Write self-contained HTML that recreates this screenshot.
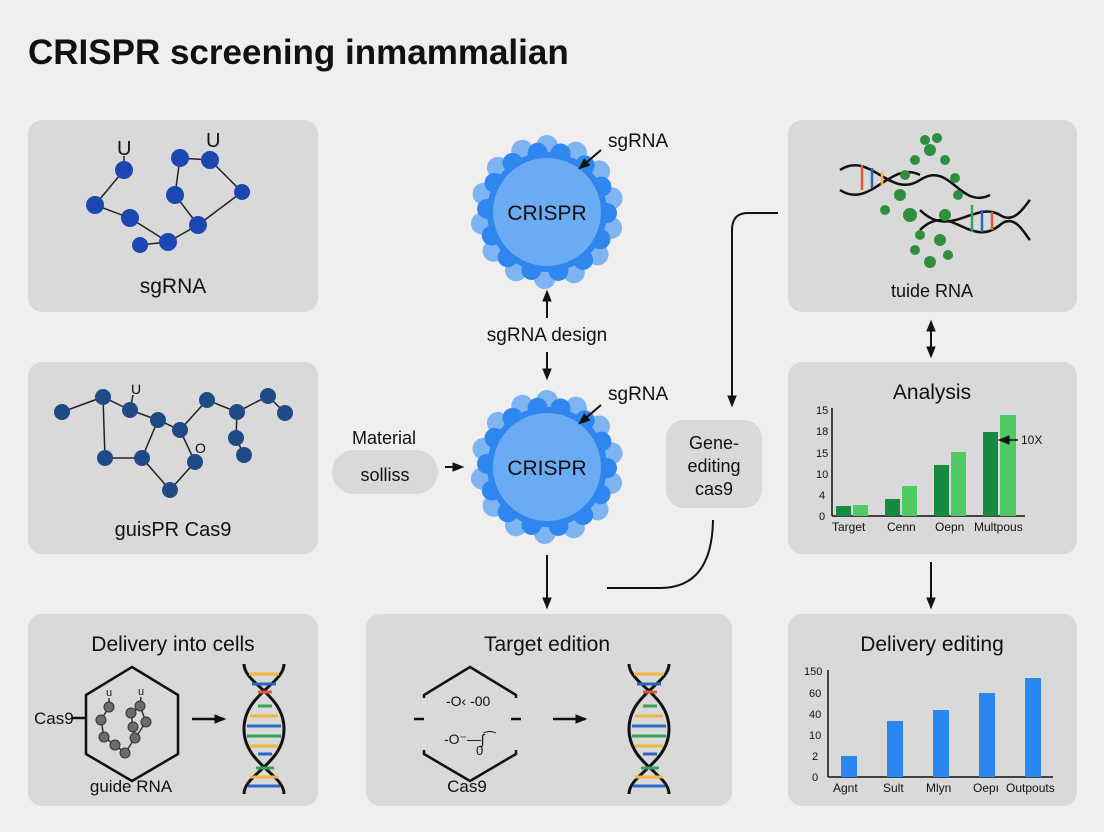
<!DOCTYPE html>
<html><head><meta charset="utf-8"><style>
body{margin:0;width:1104px;height:832px;background:#efefef;overflow:hidden;font-family:"Liberation Sans",sans-serif;}
svg{position:absolute;left:0;top:0}
text{font-family:"Liberation Sans",sans-serif;fill:#111}
</style></head><body>
<svg width="1104" height="832" viewBox="0 0 1104 832">
<defs>
<marker id="ah" viewBox="0 0 10 10" refX="8" refY="5" markerUnits="userSpaceOnUse" markerWidth="12" markerHeight="12" orient="auto-start-reverse"><path d="M0,1 L10,5 L0,9 z" fill="#111"/></marker>
<g id="blob">
<g fill="#7fb4f3">
<circle cx="0" cy="-66" r="11"/><circle cx="0" cy="-66" r="11" transform="rotate(26)"/><circle cx="0" cy="-66" r="11" transform="rotate(52)"/><circle cx="0" cy="-66" r="11" transform="rotate(78)"/><circle cx="0" cy="-66" r="11" transform="rotate(104)"/><circle cx="0" cy="-66" r="11" transform="rotate(130)"/><circle cx="0" cy="-66" r="11" transform="rotate(156)"/><circle cx="0" cy="-66" r="11" transform="rotate(182)"/><circle cx="0" cy="-66" r="11" transform="rotate(208)"/><circle cx="0" cy="-66" r="11" transform="rotate(234)"/><circle cx="0" cy="-66" r="11" transform="rotate(260)"/><circle cx="0" cy="-66" r="11" transform="rotate(286)"/><circle cx="0" cy="-66" r="11" transform="rotate(312)"/><circle cx="0" cy="-66" r="11" transform="rotate(338)"/>
</g>
<g fill="#2f86ee">
<circle cx="0" cy="-60" r="10" transform="rotate(13)"/><circle cx="0" cy="-60" r="10" transform="rotate(39)"/><circle cx="0" cy="-60" r="10" transform="rotate(65)"/><circle cx="0" cy="-60" r="10" transform="rotate(91)"/><circle cx="0" cy="-60" r="10" transform="rotate(117)"/><circle cx="0" cy="-60" r="10" transform="rotate(143)"/><circle cx="0" cy="-60" r="10" transform="rotate(169)"/><circle cx="0" cy="-60" r="10" transform="rotate(195)"/><circle cx="0" cy="-60" r="10" transform="rotate(221)"/><circle cx="0" cy="-60" r="10" transform="rotate(247)"/><circle cx="0" cy="-60" r="10" transform="rotate(273)"/><circle cx="0" cy="-60" r="10" transform="rotate(299)"/><circle cx="0" cy="-60" r="10" transform="rotate(325)"/><circle cx="0" cy="-60" r="10" transform="rotate(351)"/>
</g>
<circle r="60" fill="#2f86ee"/>
<circle r="54" fill="#6aabf3"/>
</g>
<g id="dna">
<path d="M0,0 C0,20 40,30 40,65 C40,100 0,110 0,130" fill="none" stroke="#111" stroke-width="3"/>
<path d="M40,0 C40,20 0,30 0,65 C0,100 40,110 40,130" fill="none" stroke="#111" stroke-width="3"/>
<g stroke-width="3">
<line x1="5" y1="10" x2="35" y2="10" stroke="#f0b840"/><line x1="8" y1="20" x2="32" y2="20" stroke="#2a66c8"/><line x1="14" y1="28" x2="28" y2="28" stroke="#e05a3a"/>
<line x1="14" y1="42" x2="28" y2="42" stroke="#3aa25a"/><line x1="6" y1="52" x2="34" y2="52" stroke="#f0b840"/><line x1="3" y1="62" x2="37" y2="62" stroke="#2a66c8"/><line x1="3" y1="72" x2="37" y2="72" stroke="#3aa25a"/><line x1="6" y1="82" x2="34" y2="82" stroke="#f0b840"/><line x1="14" y1="90" x2="28" y2="90" stroke="#2a66c8"/>
<line x1="12" y1="104" x2="30" y2="104" stroke="#3aa25a"/><line x1="6" y1="113" x2="34" y2="113" stroke="#f0b840"/><line x1="4" y1="122" x2="36" y2="122" stroke="#2a66c8"/>
</g>
</g>
</defs>

<text x="28" y="64" font-size="35" font-weight="bold">CRISPR screening inmammalian</text>

<g fill="#d9d9d9">
<rect x="28" y="120" width="290" height="192" rx="14"/>
<rect x="28" y="362" width="290" height="192" rx="14"/>
<rect x="28" y="614" width="290" height="192" rx="14"/>
<rect x="366" y="614" width="366" height="192" rx="14"/>
<rect x="788" y="120" width="289" height="192" rx="14"/>
<rect x="788" y="362" width="289" height="192" rx="14"/>
<rect x="788" y="614" width="289" height="192" rx="14"/>
<rect x="332" y="450" width="106" height="44" rx="22"/>
<rect x="666" y="420" width="96" height="88" rx="18"/>
</g>

<!-- TL molecule -->
<g stroke="#222" stroke-width="1.5" fill="none">
<polyline points="124,170 95,205 130,218 168,242 140,245"/>
<polyline points="168,242 198,225 175,195 180,158 210,160 242,192 198,225"/>
<line x1="124" y1="170" x2="124" y2="156"/>
</g>
<g fill="#1d47b0">
<circle cx="124" cy="170" r="9"/><circle cx="95" cy="205" r="9"/><circle cx="130" cy="218" r="9"/><circle cx="168" cy="242" r="9"/><circle cx="140" cy="245" r="8"/><circle cx="180" cy="158" r="9"/><circle cx="210" cy="160" r="9"/><circle cx="175" cy="195" r="9"/><circle cx="198" cy="225" r="9"/><circle cx="242" cy="192" r="8"/>
</g>
<text x="117" y="155" font-size="20">U</text><text x="206" y="147" font-size="20">U</text>
<text x="173" y="293" font-size="21" text-anchor="middle">sgRNA</text>

<!-- ML molecule -->
<g stroke="#222" stroke-width="1.5" fill="none">
<polyline points="62,412 103,397 130,410 158,420 180,430 207,400 237,412 268,396 285,413"/>
<polyline points="103,397 105,458 142,458 170,490"/>
<polyline points="142,458 158,420"/>
<polyline points="180,430 195,462 170,490"/>
<polyline points="237,412 236,438 244,455"/>
<line x1="130" y1="410" x2="133" y2="395"/>
</g>
<g fill="#1e4a86">
<circle cx="62" cy="412" r="8"/><circle cx="103" cy="397" r="8"/><circle cx="130" cy="410" r="8"/><circle cx="105" cy="458" r="8"/><circle cx="142" cy="458" r="8"/><circle cx="170" cy="490" r="8"/><circle cx="158" cy="420" r="8"/><circle cx="180" cy="430" r="8"/><circle cx="207" cy="400" r="8"/><circle cx="237" cy="412" r="8"/><circle cx="268" cy="396" r="8"/><circle cx="285" cy="413" r="8"/><circle cx="236" cy="438" r="8"/><circle cx="244" cy="455" r="8"/><circle cx="195" cy="462" r="8"/>
</g>
<text x="131" y="394" font-size="14">U</text><text x="195" y="453" font-size="14">O</text>
<text x="173" y="536" font-size="20" text-anchor="middle">guisPR Cas9</text>

<!-- BL -->
<text x="173" y="651" font-size="21" text-anchor="middle">Delivery into cells</text>
<path d="M132,667 L178,695 L178,754 L132,781 L86,754 L86,695 Z" fill="none" stroke="#111" stroke-width="2.5"/>
<line x1="72" y1="718" x2="86" y2="718" stroke="#111" stroke-width="2.5"/>
<text x="34" y="724" font-size="17">Cas9</text>
<g stroke="#333" stroke-width="1.5" fill="none">
<polyline points="109,707 101,720 104,737 115,745 125,753 135,738 146,722 140,706 131,713 133,727 135,738"/>
<line x1="109" y1="707" x2="109" y2="698"/><line x1="140" y1="706" x2="141" y2="697"/>
</g>
<g fill="#6b6b6b" stroke="#333" stroke-width="1">
<circle cx="109" cy="707" r="5"/><circle cx="101" cy="720" r="5"/><circle cx="104" cy="737" r="5"/><circle cx="115" cy="745" r="5"/><circle cx="125" cy="753" r="5"/><circle cx="135" cy="738" r="5"/><circle cx="146" cy="722" r="5"/><circle cx="140" cy="706" r="5"/><circle cx="131" cy="713" r="5"/><circle cx="133" cy="727" r="5"/>
</g>
<text x="106" y="696" font-size="11">u</text><text x="138" y="695" font-size="11">u</text>
<text x="131" y="792" font-size="17" text-anchor="middle">guide RNA</text>
<line x1="192" y1="719" x2="224" y2="719" stroke="#111" stroke-width="2.5" marker-end="url(#ah)"/>
<use href="#dna" x="244" y="664"/>

<!-- BC -->
<text x="547" y="651" font-size="21" text-anchor="middle">Target edition</text>
<path d="M470,667 L516,695 L516,754 L470,781 L424,754 L424,695 Z" fill="none" stroke="#111" stroke-width="2.5"/>
<rect x="418" y="698" width="12" height="52" fill="#d9d9d9"/><rect x="510" y="698" width="12" height="52" fill="#d9d9d9"/>
<line x1="414" y1="719" x2="424" y2="719" stroke="#111" stroke-width="2.5"/><line x1="511" y1="719" x2="521" y2="719" stroke="#111" stroke-width="2.5"/>
<text x="446" y="706" font-size="14">-O‹ -00</text><text x="444" y="744" font-size="14">-O⁻—ʃ⁀</text><text x="476" y="755" font-size="13">0</text>
<line x1="553" y1="719" x2="585" y2="719" stroke="#111" stroke-width="2.5" marker-end="url(#ah)"/>
<use href="#dna" x="629" y="664"/>
<text x="467" y="792" font-size="17" text-anchor="middle">Cas9</text>

<!-- blobs -->
<use href="#blob" x="547" y="212"/>
<use href="#blob" x="547" y="467"/>
<text x="547" y="220" font-size="21" text-anchor="middle">CRISPR</text>
<text x="547" y="475" font-size="21" text-anchor="middle">CRISPR</text>
<text x="608" y="147" font-size="19">sgRNA</text>
<line x1="601" y1="150" x2="580" y2="168" stroke="#111" stroke-width="2" marker-end="url(#ah)"/>
<text x="608" y="400" font-size="19">sgRNA</text>
<line x1="601" y1="405" x2="580" y2="423" stroke="#111" stroke-width="2" marker-end="url(#ah)"/>
<line x1="547" y1="318" x2="547" y2="292" stroke="#111" stroke-width="2" marker-end="url(#ah)"/>
<text x="547" y="341" font-size="19" text-anchor="middle">sgRNA design</text>
<line x1="547" y1="352" x2="547" y2="378" stroke="#111" stroke-width="2" marker-end="url(#ah)"/>
<text x="384" y="444" font-size="18" text-anchor="middle">Material</text>
<text x="385" y="481" font-size="18" text-anchor="middle">solliss</text>
<line x1="445" y1="467" x2="462" y2="467" stroke="#111" stroke-width="2" marker-end="url(#ah)"/>
<text x="714" y="449" font-size="18" text-anchor="middle">Gene-</text>
<text x="714" y="472" font-size="18" text-anchor="middle">editing</text>
<text x="714" y="495" font-size="18" text-anchor="middle">cas9</text>
<path d="M778,213 L748,213 Q732,213 732,230 L732,405" fill="none" stroke="#111" stroke-width="2" marker-end="url(#ah)"/>
<path d="M607,588 L660,588 Q712,588 713,520" fill="none" stroke="#111" stroke-width="2"/>
<line x1="547" y1="555" x2="547" y2="607" stroke="#111" stroke-width="2" marker-end="url(#ah)"/>
<line x1="931" y1="322" x2="931" y2="356" stroke="#111" stroke-width="2" marker-start="url(#ah)" marker-end="url(#ah)"/>
<line x1="931" y1="562" x2="931" y2="607" stroke="#111" stroke-width="2" marker-end="url(#ah)"/>

<!-- TR DNA -->
<g fill="none" stroke="#111" stroke-width="2.5">
<path d="M840,170 C870,150 890,200 920,180 C950,160 960,210 990,195"/>
<path d="M840,190 C870,210 890,160 920,175"/>
<path d="M920,230 C950,200 970,250 1000,225 C1015,212 1025,235 1030,240"/>
<path d="M920,210 C950,240 975,200 1000,215 C1015,225 1025,205 1030,200"/>
</g>
<g stroke-width="2.5"><line x1="862" y1="165" x2="862" y2="190" stroke="#e05a3a"/><line x1="872" y1="168" x2="872" y2="188" stroke="#2a66c8"/><line x1="882" y1="172" x2="882" y2="186" stroke="#f0b840"/><line x1="972" y1="205" x2="972" y2="232" stroke="#3aa25a"/><line x1="982" y1="210" x2="982" y2="232" stroke="#2a66c8"/><line x1="992" y1="212" x2="992" y2="230" stroke="#e05a3a"/></g>
<g fill="#2f8f3e">
<circle cx="930" cy="150" r="6"/><circle cx="915" cy="160" r="5"/><circle cx="945" cy="160" r="5"/><circle cx="905" cy="175" r="5"/><circle cx="955" cy="178" r="5"/><circle cx="900" cy="195" r="6"/><circle cx="958" cy="195" r="5"/><circle cx="910" cy="215" r="7"/><circle cx="945" cy="215" r="6"/><circle cx="920" cy="235" r="5"/><circle cx="940" cy="240" r="6"/><circle cx="930" cy="262" r="6"/><circle cx="915" cy="250" r="5"/><circle cx="948" cy="255" r="5"/><circle cx="925" cy="140" r="5"/><circle cx="937" cy="138" r="5"/><circle cx="885" cy="210" r="5"/>
</g>
<text x="932" y="297" font-size="18" text-anchor="middle">tuide RNA</text>

<!-- Analysis chart -->
<text x="932" y="399" font-size="21" text-anchor="middle">Analysis</text>
<g font-size="11" fill="#111"><text x="816" y="414">15</text><text x="816" y="435">18</text><text x="816" y="457">15</text><text x="816" y="478">10</text><text x="819" y="499">4</text><text x="819" y="520">0</text></g>
<line x1="832" y1="408" x2="832" y2="516" stroke="#111" stroke-width="1.5"/>
<line x1="832" y1="516" x2="1025" y2="516" stroke="#111" stroke-width="1.5"/>
<g fill="#168a3e"><rect x="836" y="506" width="15" height="10"/><rect x="885" y="499" width="15" height="17"/><rect x="934" y="465" width="15" height="51"/><rect x="983" y="432" width="15" height="84"/></g>
<g fill="#4fc963"><rect x="853" y="505" width="15" height="11"/><rect x="902" y="486" width="15" height="30"/><rect x="951" y="452" width="15" height="64"/><rect x="1000" y="415" width="16" height="101"/></g>
<line x1="1018" y1="440" x2="1000" y2="440" stroke="#111" stroke-width="1.5" marker-end="url(#ah)"/>
<text x="1021" y="444" font-size="12">10X</text>
<g font-size="12"><text x="832" y="531">Target</text><text x="887" y="531">Cenn</text><text x="935" y="531">Oepn</text><text x="974" y="531">Multpous</text></g>

<!-- Delivery editing chart -->
<text x="932" y="651" font-size="21" text-anchor="middle">Delivery editing</text>
<g font-size="11"><text x="804" y="675">150</text><text x="809" y="697">60</text><text x="809" y="718">40</text><text x="809" y="739">10</text><text x="812" y="760">2</text><text x="812" y="781">0</text></g>
<line x1="828" y1="670" x2="828" y2="777" stroke="#111" stroke-width="1.5"/>
<line x1="828" y1="777" x2="1053" y2="777" stroke="#111" stroke-width="1.5"/>
<g fill="#2a86f0"><rect x="841" y="756" width="16" height="21"/><rect x="887" y="721" width="16" height="56"/><rect x="933" y="710" width="16" height="67"/><rect x="979" y="693" width="16" height="84"/><rect x="1025" y="678" width="16" height="99"/></g>
<g font-size="12"><text x="833" y="792">Agnt</text><text x="883" y="792">Sult</text><text x="926" y="792">Mlyn</text><text x="973" y="792">Oepı</text><text x="1006" y="792">Outpouts</text></g>
</svg>
</body></html>
